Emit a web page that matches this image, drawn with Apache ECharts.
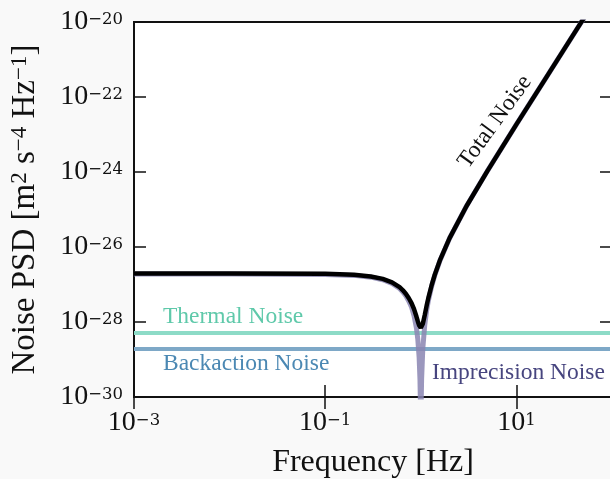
<!DOCTYPE html>
<html>
<head>
<meta charset="utf-8">
<script src="https://cdn.jsdelivr.net/npm/echarts@6/dist/echarts.min.js"></script>
<style>
html,body{margin:0;padding:0;background:#f9f9f9;}
#chart{width:610px;height:479px;}
</style>
</head>
<body>
<div id="chart"></div>
<script>
// ---- data ----
const freqRange = [1e-3, 1e2];          // Hz
const psdRange = [1e-30, 1e-20];        // m^2 s^-4 Hz^-1
const xTickValues = [1e-3, 1e-1, 1e1];
const yTickValues = [1e-30, 1e-28, 1e-26, 1e-24, 1e-22, 1e-20];
const thermalNoise = 5.1e-29;
const backactionNoise = 1.9e-29;

const totalFreq = [0.001, 0.01, 0.1, 0.2, 0.3, 0.4, 0.5, 0.6, 0.65, 0.7, 0.75, 0.8, 0.85, 0.9, 0.93, 0.96, 0.98, 1.0,
  1.02, 1.05, 1.1, 1.15, 1.2, 1.3, 1.4, 1.6, 2, 3, 5, 10, 20, 50, 100];
const totalPSD = [1.97e-27, 1.97e-27, 1.93e-27, 1.82e-27, 1.64e-27, 1.41e-27, 1.14e-27, 8.5e-28, 7.0e-28, 5.6e-28, 4.3e-28,
  3.2e-28, 2.2e-28, 1.4e-28, 1.05e-28, 8.2e-29, 7.3e-29, 7.0e-29,
  7.3e-29, 9.0e-29, 1.54e-28, 2.7e-28, 4.4e-28, 9.7e-28, 1.82e-27, 4.7e-27, 1.72e-26, 1.22e-25, 1.09e-24, 1.86e-23,
  3.0e-22, 1.19e-20, 1.9e-19];

const imprecFreq = [0.001, 0.01, 0.1, 0.2, 0.3, 0.4, 0.5, 0.6, 0.65, 0.7, 0.75, 0.8, 0.85, 0.9, 0.93, 0.96, 0.98, 0.99, 0.995, 1.0,
  1.005, 1.01, 1.02, 1.05, 1.1, 1.15, 1.2, 1.3, 1.4, 1.6, 2, 3, 5, 10, 20, 50, 100];
const imprecPSD = [1.9e-27, 1.9e-27, 1.86e-27, 1.75e-27, 1.57e-27, 1.34e-27, 1.07e-27, 7.8e-28, 6.3e-28, 4.9e-28, 3.6e-28,
  2.5e-28, 1.46e-28, 6.9e-29, 3.5e-29, 1.17e-29, 3.0e-30, 7.5e-31, 1.9e-31, 1e-33,
  1.9e-31, 7.7e-31, 3.1e-30, 2.0e-29, 8.4e-29, 1.98e-28, 3.7e-28, 9.0e-28, 1.75e-27, 4.6e-27, 1.71e-26, 1.22e-25,
  1.09e-24, 1.86e-23, 3.0e-22, 1.19e-20, 1.9e-19];

const labels = {
  thermal: 'Thermal Noise',
  backaction: 'Backaction Noise',
  imprecision: 'Imprecision Noise',
  total: 'Total Noise'
};

// ---- chart ----
const FONT = 'Liberation Serif';
const pair = (xs, ys) => xs.map((x, i) => [x, ys[i]]);

function expLabel(v) {
  const e = Math.round(Math.log10(v));
  const s = e < 0 ? '\u2212' + (-e) : String(e);
  return '{b|10}{s|' + s + '}';
}
const tickRich = {
  b: {fontFamily: FONT, fontSize: 28, lineHeight: 22, color: '#111'},
  s: {fontFamily: 'DejaVu Serif', fontSize: 16.5, lineHeight: 9, verticalAlign: 'top', color: '#111'}
};

const chart = echarts.init(document.getElementById('chart'), null, {renderer: 'canvas'});
const common = {
  type: 'log', logBase: 10, interval: 2,
  splitLine: {show: false},
  axisLine: {show: false}
};
const tick = vals => ({show: true, inside: true, length: 12, customValues: vals,
                       lineStyle: {color: '#111', width: 1.5}});
chart.setOption({
  backgroundColor: '#f9f9f9',
  animation: false,
  grid: {left: 134, right: -2, top: 22, bottom: 82, show: true, backgroundColor: '#fff',
         borderColor: '#111', borderWidth: 2, outerBoundsMode: 'none'},
  xAxis: [
    Object.assign({}, common, {
      min: freqRange[0], max: freqRange[1], position: 'bottom',
      axisTick: tick(xTickValues),
      axisLabel: {margin: 15, customValues: xTickValues, hideOverlap: false,
        formatter: expLabel, rich: tickRich},
      name: '{n|Frequency [Hz]}', nameLocation: 'middle', nameGap: 50, nameMoveOverlap: false,
      nameTextStyle: {rich: {n: {fontFamily: FONT, fontSize: 32, color: '#111'}}}
    }),
    Object.assign({}, common, {
      min: freqRange[0], max: freqRange[1], position: 'top',
      axisTick: tick(xTickValues), axisLabel: {show: false}
    })
  ],
  yAxis: [
    Object.assign({}, common, {
      min: psdRange[0], max: psdRange[1], position: 'left',
      axisTick: tick(yTickValues),
      axisLabel: {margin: 11, customValues: yTickValues, hideOverlap: false,
        formatter: expLabel, rich: tickRich},
      name: '{n|Noise PSD [m}{s|2}{n| s}{s|\u22124}{n| Hz}{s|\u22121}{n|]}',
      nameLocation: 'middle', nameGap: 92, nameRotate: 90, nameMoveOverlap: false,
      nameTextStyle: {rich: {
        n: {fontFamily: FONT, fontSize: 33, lineHeight: 34, color: '#111'},
        s: {fontFamily: FONT, fontSize: 23, lineHeight: 22, verticalAlign: 'top', color: '#111'}
      }}
    }),
    Object.assign({}, common, {
      min: psdRange[0], max: psdRange[1], position: 'right',
      axisTick: tick(yTickValues), axisLabel: {show: false}
    })
  ],
  series: [
    {name: labels.thermal, type: 'line', showSymbol: false, z: 2,
     data: [[freqRange[0], thermalNoise], [freqRange[1], thermalNoise]],
     lineStyle: {color: '#8ddbc7', width: 4}},
    {name: labels.backaction, type: 'line', showSymbol: false, z: 2,
     data: [[freqRange[0], backactionNoise], [freqRange[1], backactionNoise]],
     lineStyle: {color: '#7ea8c7', width: 4}},
    {name: labels.imprecision, type: 'line', showSymbol: false, z: 3,
     data: pair(imprecFreq, imprecPSD),
     lineStyle: {color: '#8a85b2', width: 5, opacity: 0.85}},
    {name: labels.total, type: 'line', showSymbol: false, z: 4,
     data: pair(totalFreq, totalPSD),
     lineStyle: {color: '#000', width: 4.5}}
  ],
  graphic: [
    {type: 'text', x: 163, y: 317, z: 10, style: {text: labels.thermal, fill: '#5fc9aa',
      font: '23.5px "Liberation Serif"', verticalAlign: 'middle', align: 'left'}},
    {type: 'text', x: 163, y: 364, z: 10, style: {text: labels.backaction, fill: '#4b88b3',
      font: '23.5px "Liberation Serif"', verticalAlign: 'middle', align: 'left'}},
    {type: 'text', x: 432, y: 373, z: 10, style: {text: labels.imprecision, fill: '#47457f',
      font: '23.5px "Liberation Serif"', verticalAlign: 'middle', align: 'left'}},
    {type: 'text', x: 495, y: 122, z: 10, rotation: 54 * Math.PI / 180,
     style: {text: labels.total, fill: '#111',
      font: '23.5px "Liberation Serif"', verticalAlign: 'middle', align: 'center'}}
  ]
});
</script>
</body>
</html>
